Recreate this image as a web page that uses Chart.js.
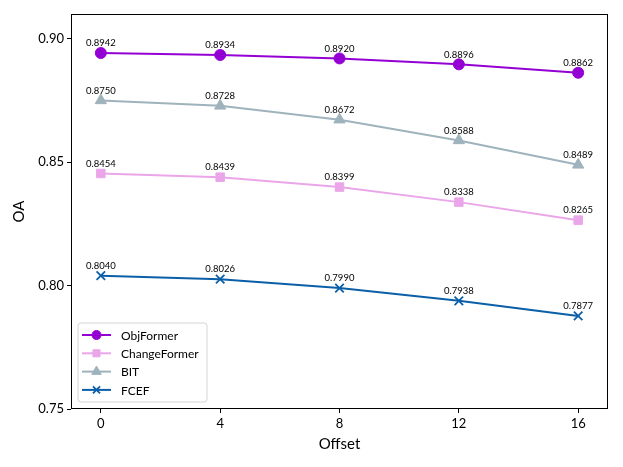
<!DOCTYPE html>
<html>
<head>
<meta charset="utf-8">
<script src="https://cdn.jsdelivr.net/npm/chart.js@4.4.1/dist/chart.umd.min.js"></script>
<style>
  html, body { margin: 0; padding: 0; background: #fff; }
  #wrap { width: 623px; height: 467px; }
</style>
</head>
<body>
<div id="wrap"><canvas id="oaChart" width="623" height="467"></canvas></div>
<script>
// chart data
const offsets = [0, 4, 8, 12, 16];
const xTicks = [0, 4, 8, 12, 16];
const yTicks = [0.75, 0.80, 0.85, 0.90];

const seriesNames = ['ObjFormer', 'ChangeFormer', 'BIT', 'FCEF'];
const objFormer = [0.8942, 0.8934, 0.8920, 0.8896, 0.8862];
const changeFormer = [0.8454, 0.8439, 0.8399, 0.8338, 0.8265];
const bit = [0.8750, 0.8728, 0.8672, 0.8588, 0.8489];
const fcef = [0.8040, 0.8026, 0.7990, 0.7938, 0.7877];

const FONT = 'Lato, "Open Sans", sans-serif';

const styles = [
  { color: '#9400d3', shape: 'circle', radius: 5.5 },
  { color: '#eaa6e8', shape: 'rect', radius: 6 },
  { color: '#9fb3bd', shape: 'triangle', radius: 6.5 },
  { color: '#0a5fa8', shape: 'crossRot', radius: 6 }
];
const values = [objFormer, changeFormer, bit, fcef];

const datasets = seriesNames.map((name, i) => ({
  label: name,
  data: offsets.map((x, j) => ({ x: x, y: values[i][j] })),
  borderColor: styles[i].color,
  backgroundColor: styles[i].color,
  pointStyle: styles[i].shape,
  pointRadius: styles[i].radius,
  pointHoverRadius: styles[i].radius,
  pointBorderWidth: styles[i].shape === 'crossRot' ? 1.8 : 1,
  borderWidth: 2,
  tension: 0
}));

// value labels above each point
const valueLabels = {
  id: 'valueLabels',
  afterDatasetsDraw(chart) {
    const ctx = chart.ctx;
    ctx.save();
    ctx.font = '9.5px ' + FONT;
    ctx.fillStyle = '#000';
    ctx.textAlign = 'center';
    ctx.textBaseline = 'bottom';
    chart.data.datasets.forEach((ds, i) => {
      chart.getDatasetMeta(i).data.forEach((pt, j) => {
        ctx.fillText(values[i][j].toFixed(4), pt.x, pt.y - 5);
      });
    });
    ctx.restore();
  }
};

// frame round the plot area + legend inside, lower left
const frameAndLegend = {
  id: 'frameAndLegend',
  afterDraw(chart) {
    const ctx = chart.ctx;
    const a = chart.chartArea;
    ctx.save();
    ctx.strokeStyle = '#000';
    ctx.lineWidth = 1;
    ctx.strokeRect(a.left + 0.5, a.top + 0.5, a.right - a.left - 1, a.bottom - a.top - 1);

    // legend box
    const bx = a.left + 7, by = a.bottom - 86, bw = 129, bh = 79;
    ctx.fillStyle = 'rgba(255,255,255,0.85)';
    ctx.strokeStyle = '#d5d5d5';
    ctx.beginPath();
    ctx.roundRect(bx, by, bw, bh, 3);
    ctx.fill();
    ctx.stroke();

    ctx.font = '12px ' + FONT;
    ctx.textBaseline = 'middle';
    ctx.textAlign = 'left';
    chart.data.datasets.forEach((ds, i) => {
      const yy = by + 12 + i * 18.3;
      ctx.strokeStyle = ds.borderColor;
      ctx.lineWidth = 2;
      ctx.beginPath();
      ctx.moveTo(bx + 4, yy);
      ctx.lineTo(bx + 33, yy);
      ctx.stroke();
      ctx.fillStyle = ds.backgroundColor;
      ctx.lineWidth = ds.pointBorderWidth;
      Chart.helpers.drawPoint(ctx, {
        pointStyle: ds.pointStyle,
        radius: ds.pointRadius - 1,
        borderWidth: ds.pointBorderWidth,
        rotation: 0
      }, bx + 18.5, yy);
      ctx.fillStyle = '#000';
      ctx.fillText(ds.label, bx + 43, yy + 1);
    });
    ctx.restore();
  }
};

new Chart(document.getElementById('oaChart'), {
  type: 'line',
  data: { datasets: datasets },
  options: {
    responsive: false,
    animation: false,
    events: [],
    layout: { padding: { left: 0, top: 14, right: 15, bottom: 0 } },
    plugins: {
      legend: { display: false },
      tooltip: { enabled: false }
    },
    scales: {
      x: {
        type: 'linear',
        min: -1,
        max: 17,
        afterBuildTicks(axis) { axis.ticks = xTicks.map(v => ({ value: v })); },
        afterFit(axis) { axis.height = 58; },
        grid: { drawOnChartArea: false, drawTicks: true, tickLength: 4, color: '#000' },
        border: { display: false },
        ticks: { color: '#000', font: { size: 13, family: FONT }, padding: 3 },
        title: { display: true, text: 'Offset', color: '#000', font: { size: 15, family: FONT }, padding: { top: 2, bottom: 14 } }
      },
      y: {
        type: 'linear',
        min: 0.75,
        max: 0.91,
        afterBuildTicks(axis) { axis.ticks = yTicks.map(v => ({ value: v })); },
        afterFit(axis) { axis.width = 71; },
        grid: { drawOnChartArea: false, drawTicks: true, tickLength: 4, color: '#000' },
        border: { display: false },
        ticks: {
          color: '#000',
          font: { size: 13, family: FONT },
          padding: 3,
          callback: v => v.toFixed(2)
        },
        title: { display: true, text: 'OA', color: '#000', font: { size: 15, family: FONT }, padding: { top: 10, bottom: 4 } }
      }
    }
  },
  plugins: [valueLabels, frameAndLegend]
});
</script>
</body>
</html>
